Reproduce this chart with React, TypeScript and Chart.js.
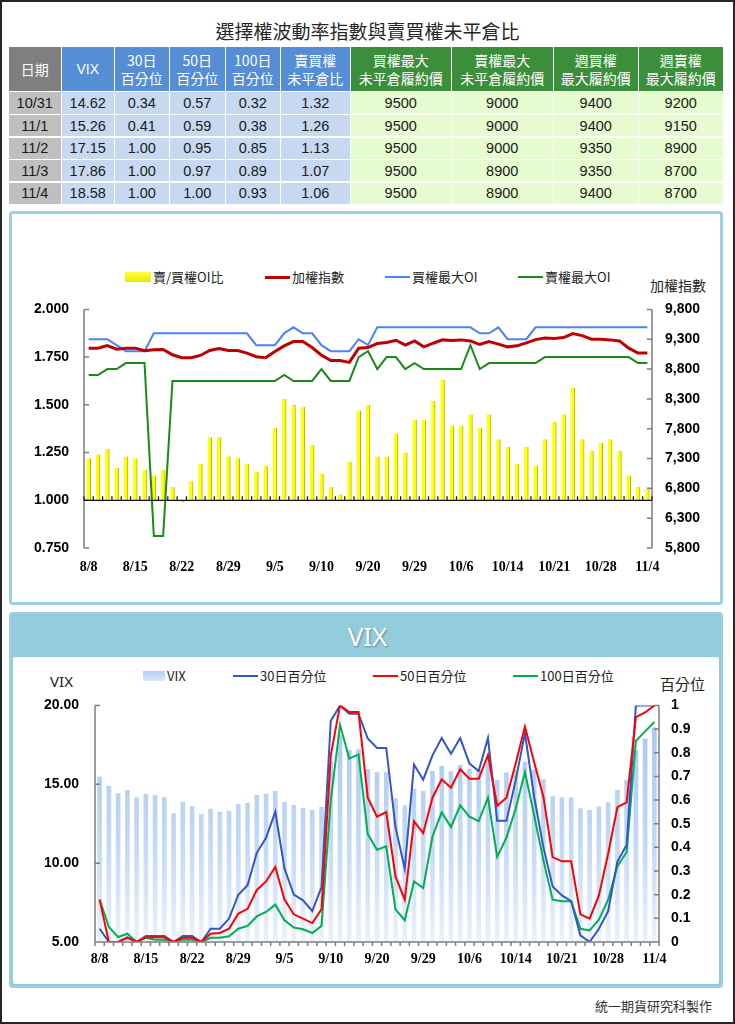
import React, { useEffect, useRef } from "react";
import { Chart, registerables } from "chart.js";

Chart.register(...registerables);

// ---------------- data ----------------
const DATES = ["8/8","8/9","8/10","8/11","8/12","8/15","8/16","8/17","8/18","8/19","8/22","8/23","8/24","8/25","8/26","8/29","8/30","8/31","9/1","9/2","9/5","9/6","9/7","9/8","9/9","9/10","9/12","9/13","9/14","9/19","9/20","9/21","9/22","9/23","9/26","9/29","9/30","10/3","10/4","10/5","10/6","10/7","10/11","10/12","10/13","10/14","10/17","10/18","10/19","10/20","10/21","10/24","10/25","10/26","10/27","10/28","10/31","11/1","11/2","11/3","11/4"];
const X_LABEL_STEP = 5;

// chart 1
const OI_RATIO = [1.22,1.24,1.27,1.17,1.23,1.22,1.16,1.13,1.16,1.07,0.99,1.10,1.19,1.33,1.33,1.23,1.22,1.19,1.15,1.18,1.38,1.53,1.50,1.49,1.29,1.14,1.07,1.03,1.20,1.47,1.50,1.23,1.23,1.35,1.25,1.42,1.42,1.52,1.63,1.39,1.39,1.45,1.38,1.45,1.32,1.28,1.19,1.28,1.18,1.32,1.41,1.45,1.59,1.32,1.26,1.30,1.32,1.26,1.13,1.07,1.06];
const TAIEX = [9150,9150,9194,9133,9150,9150,9106,9122,9128,9039,8989,8989,9028,9111,9144,9111,9111,9067,9006,8989,9094,9189,9261,9261,9161,9033,8944,8944,8911,9150,9161,9228,9244,9283,9200,9272,9172,9233,9289,9278,9289,9272,9211,9261,9217,9172,9189,9239,9294,9322,9311,9328,9394,9361,9300,9300,9289,9272,9150,9067,9067];
const CALL_MAX_OI = [9300,9300,9300,9200,9100,9100,9100,9400,9400,9400,9400,9400,9400,9400,9400,9400,9400,9400,9200,9200,9200,9400,9500,9400,9400,9200,9100,9100,9100,9300,9200,9500,9500,9500,9500,9500,9500,9500,9500,9500,9500,9500,9400,9400,9500,9300,9300,9300,9500,9500,9500,9500,9500,9500,9500,9500,9500,9500,9500,9500,9500];
const PUT_MAX_OI = [8700,8700,8800,8800,8900,8900,8900,6000,6000,8600,8600,8600,8600,8600,8600,8600,8600,8600,8600,8600,8600,8700,8600,8600,8600,8800,8600,8600,8600,9000,9100,8800,9000,9000,8800,8900,8800,8800,8800,8800,8800,9200,8800,8900,8900,8900,8900,8900,8900,9000,9000,9000,9000,9000,9000,9000,9000,9000,9000,8900,8900];
const Y1_LEFT = { min: 0.75, max: 2.0, step: 0.25 };
const Y1_RIGHT = { min: 5800, max: 9800, step: 500 };

// chart 2
const VIX = [15.45,14.87,14.41,14.62,14.14,14.37,14.30,14.16,13.14,13.86,13.59,13.08,13.42,13.23,13.31,13.73,13.80,14.30,14.37,14.56,13.86,13.67,13.48,13.35,13.54,16.40,18.10,17.15,17.19,15.95,15.74,15.78,14.09,13.63,14.70,14.56,15.82,16.14,15.80,16.20,15.95,15.89,16.30,15.25,15.72,15.90,16.41,15.90,15.30,14.24,14.14,14.14,13.46,13.35,13.57,13.84,14.62,15.26,17.15,17.86,18.58];
const PCT30 = [0.056,0,0,0.02,0,0.025,0.025,0.025,0,0.025,0.025,0,0.056,0.056,0.099,0.2,0.24,0.377,0.44,0.55,0.31,0.2,0.176,0.131,0.232,0.934,1,0.965,0.965,0.86,0.82,0.82,0.486,0.31,0.75,0.686,0.789,0.862,0.796,0.862,0.754,0.723,0.862,0.512,0.512,0.683,0.883,0.613,0.40,0.235,0.197,0.173,0.028,0,0.056,0.13,0.34,0.41,1,1,1];
const PCT50 = [0.179,0,0,0.018,0,0.02,0.02,0.02,0,0.018,0.018,0,0.035,0.038,0.056,0.12,0.14,0.22,0.256,0.317,0.179,0.117,0.099,0.08,0.138,0.789,1,0.972,0.972,0.61,0.53,0.549,0.277,0.179,0.51,0.46,0.61,0.687,0.652,0.73,0.69,0.69,0.79,0.576,0.61,0.754,0.911,0.76,0.613,0.359,0.341,0.341,0.117,0.099,0.197,0.373,0.57,0.59,0.95,0.97,1.0];
const PCT100 = [0.179,0.063,0.021,0.035,0,0.018,0.01,0.01,0,0.01,0.01,0,0.018,0.018,0.024,0.056,0.068,0.108,0.127,0.158,0.092,0.061,0.054,0.038,0.068,0.599,0.918,0.775,0.793,0.456,0.39,0.404,0.138,0.092,0.256,0.228,0.446,0.548,0.486,0.577,0.53,0.511,0.61,0.36,0.441,0.563,0.718,0.535,0.345,0.179,0.172,0.172,0.056,0.049,0.094,0.179,0.32,0.38,0.85,0.89,0.93];
const Y2_LEFT = { min: 5, max: 20, step: 5 };
const Y2_RIGHT = { min: 0, max: 1, step: 0.1 };

// table
const TABLE_HEADERS = [["日期"],["VIX"],["30日","百分位"],["50日","百分位"],["100日","百分位"],["賣買權","未平倉比"],["買權最大","未平倉履約價"],["賣權最大","未平倉履約價"],["週買權","最大履約價"],["週賣權","最大履約價"]];
const TABLE_DATES = ["10/31","11/1","11/2","11/3","11/4"];
const TABLE_VIX = ["14.62","15.26","17.15","17.86","18.58"];
const TABLE_P30 = ["0.34","0.41","1.00","1.00","1.00"];
const TABLE_P50 = ["0.57","0.59","0.95","0.97","1.00"];
const TABLE_P100 = ["0.32","0.38","0.85","0.89","0.93"];
const TABLE_RATIO = ["1.32","1.26","1.13","1.07","1.06"];
const TABLE_CALL = ["9500","9500","9500","9500","9500"];
const TABLE_PUT = ["9000","9000","9000","8900","8900"];
const TABLE_WCALL = ["9400","9400","9350","9350","9400"];
const TABLE_WPUT = ["9200","9150","8900","8700","8700"];

// ---------------- styles ----------------
const CJK = "'Noto Sans CJK TC', 'Noto Sans', sans-serif";
const NUM = "'Liberation Sans', Arial, sans-serif";
const SERIF = "'Liberation Serif', 'Times New Roman', serif";

const COL_X = [9, 62, 115, 170, 226, 281, 351, 452, 554, 639, 724];
const ROW_Y = [47, 92, 115, 137.5, 160, 182.5, 205];
const HEAD_BG = ["#7f7f7f", "#558ed5", "#558ed5", "#558ed5", "#558ed5", "#558ed5", "#3b8f3b", "#3b8f3b", "#3b8f3b", "#3b8f3b"];
const BODY_BG = ["#bfbfbf", "#c6d9f1", "#c6d9f1", "#c6d9f1", "#c6d9f1", "#c6d9f1", "#e6fbcf", "#e6fbcf", "#e6fbcf", "#e6fbcf"];

const tickLabel = (i: number) => (i % X_LABEL_STEP === 0 ? DATES[i] : "");

function categoryBounds(xs: any) {
  const w = xs.getPixelForValue(1) - xs.getPixelForValue(0);
  const x0 = xs.getPixelForValue(0) - w / 2;
  return { w, x0 };
}

const decor1 = {
  id: "decor1",
  afterDraw(chart: any) {
    const { ctx, chartArea: a, scales } = chart;
    const xs = scales.x, yl = scales.y, yr = scales.y1;
    ctx.save();
    ctx.strokeStyle = "#7f7f7f";
    ctx.lineWidth = 1.5;
    ctx.beginPath();
    ctx.moveTo(a.left, a.top); ctx.lineTo(a.left, a.bottom);
    yl.ticks.forEach((t: any) => { const p = yl.getPixelForValue(t.value); ctx.moveTo(a.left, p); ctx.lineTo(a.left + 5, p); });
    ctx.moveTo(a.right, a.top); ctx.lineTo(a.right, a.bottom);
    yr.ticks.forEach((t: any) => { const p = yr.getPixelForValue(t.value); ctx.moveTo(a.right, p); ctx.lineTo(a.right - 5, p); });
    ctx.stroke();
    const by = yl.getPixelForValue(1);
    const { w, x0 } = categoryBounds(xs);
    ctx.strokeStyle = "#111";
    ctx.lineWidth = 1.2;
    ctx.beginPath();
    ctx.moveTo(a.left, by); ctx.lineTo(a.right, by);
    for (let i = 0; i <= DATES.length; i++) { const px = x0 + i * w; ctx.moveTo(px, by); ctx.lineTo(px, by - 4); }
    ctx.stroke();
    ctx.restore();
  },
};

const decor2 = {
  id: "decor2",
  afterDraw(chart: any) {
    const { ctx, chartArea: a, scales } = chart;
    const xs = scales.x, yl = scales.y, yr = scales.y1;
    ctx.save();
    ctx.strokeStyle = "#7f7f7f";
    ctx.lineWidth = 1.5;
    ctx.beginPath();
    ctx.moveTo(a.left, a.top); ctx.lineTo(a.left, a.bottom);
    yl.ticks.forEach((t: any) => { const p = yl.getPixelForValue(t.value); ctx.moveTo(a.left, p); ctx.lineTo(a.left + 5, p); });
    ctx.moveTo(a.right, a.top); ctx.lineTo(a.right, a.bottom);
    yr.ticks.forEach((t: any) => { const p = yr.getPixelForValue(t.value); ctx.moveTo(a.right, p); ctx.lineTo(a.right - 5, p); });
    ctx.moveTo(a.left, a.bottom); ctx.lineTo(a.right, a.bottom);
    const { w, x0 } = categoryBounds(xs);
    for (let i = 0; i <= DATES.length; i++) { const px = x0 + i * w; ctx.moveTo(px, a.bottom); ctx.lineTo(px, a.bottom + 4); }
    ctx.stroke();
    ctx.restore();
  },
};

const tickFont = { family: NUM, weight: "bold" as const, size: 14 };
const xFont = { family: SERIF, weight: "bold" as const, size: 14 };

function ChartOne() {
  const ref = useRef<HTMLCanvasElement>(null);
  useEffect(() => {
    if (!ref.current) return;
    const chart = new Chart(ref.current, {
      type: "bar",
      data: {
        labels: DATES,
        datasets: [
          { type: "line", label: "加權指數", data: TAIEX, yAxisID: "y1", borderColor: "#c00000", borderWidth: 3, pointRadius: 0, tension: 0, order: 0 } as any,
          { type: "line", label: "買權最大OI", data: CALL_MAX_OI, yAxisID: "y1", borderColor: "#4d7fff", borderWidth: 2, pointRadius: 0, tension: 0, order: 1 } as any,
          { type: "line", label: "賣權最大OI", data: PUT_MAX_OI, yAxisID: "y1", borderColor: "#1a8a1a", borderWidth: 2, pointRadius: 0, tension: 0, order: 2 } as any,
          { type: "bar", label: "賣/買權OI比", data: OI_RATIO, yAxisID: "y", base: 1, backgroundColor: "#ffff00", borderColor: "#b5b500", borderWidth: { left: 0, right: 1, top: 0, bottom: 0 }, borderSkipped: false, barThickness: 4, order: 5 } as any,
        ],
      },
      options: {
        animation: false,
        responsive: false,
        maintainAspectRatio: false,
        layout: { padding: { top: 12, left: 0, right: 0, bottom: 0 } },
        plugins: { legend: { display: false }, tooltip: { enabled: false } },
        scales: {
          x: {
            type: "category", offset: true,
            grid: { display: false, drawTicks: false }, border: { display: false },
            ticks: { autoSkip: false, maxRotation: 0, minRotation: 0, padding: 11, color: "#000", font: xFont, callback: (_v: any, i: number) => tickLabel(i) },
            afterFit: (s: any) => { s.height = 38; },
          },
          y: {
            position: "left", min: Y1_LEFT.min, max: Y1_LEFT.max,
            grid: { display: false, drawTicks: false }, border: { display: false },
            ticks: { stepSize: Y1_LEFT.step, padding: 15, color: "#000", font: tickFont, callback: (v: any) => Number(v).toFixed(3) },
            afterFit: (s: any) => { s.width = 70; },
          },
          y1: {
            position: "right", min: Y1_RIGHT.min, max: Y1_RIGHT.max,
            grid: { display: false, drawTicks: false }, border: { display: false },
            ticks: { stepSize: Y1_RIGHT.step, padding: 13, color: "#000", font: tickFont, callback: (v: any) => Number(v).toLocaleString("en-US") },
            afterFit: (s: any) => { s.width = 67; },
          },
        },
      } as any,
      plugins: [decor1],
    });
    return () => chart.destroy();
  }, []);
  return <canvas ref={ref} width={705} height={300} style={{ position: "absolute", left: 14, top: 286, width: 705, height: 300 }} />;
}

function ChartTwo() {
  const ref = useRef<HTMLCanvasElement>(null);
  useEffect(() => {
    if (!ref.current) return;
    const chart = new Chart(ref.current, {
      type: "bar",
      data: {
        labels: DATES,
        datasets: [
          { type: "line", label: "50日百分位", data: PCT50, yAxisID: "y1", borderColor: "#ff0000", borderWidth: 2, pointRadius: 0, tension: 0, order: 0 } as any,
          { type: "line", label: "30日百分位", data: PCT30, yAxisID: "y1", borderColor: "#3355cc", borderWidth: 2, pointRadius: 0, tension: 0, order: 1 } as any,
          { type: "line", label: "100日百分位", data: PCT100, yAxisID: "y1", borderColor: "#00b050", borderWidth: 2, pointRadius: 0, tension: 0, order: 2 } as any,
          {
            type: "bar", label: "VIX", data: VIX, yAxisID: "y", barThickness: 4, order: 5,
            backgroundColor: (c: any) => {
              const a = c.chart.chartArea;
              if (!a) return "#c5daf5";
              const g = c.chart.ctx.createLinearGradient(0, a.top, 0, a.bottom);
              g.addColorStop(0, "#a6c6ef");
              g.addColorStop(0.6, "#c4daf5");
              g.addColorStop(1, "#eaf2fc");
              return g;
            },
          } as any,
        ],
      },
      options: {
        animation: false,
        responsive: false,
        maintainAspectRatio: false,
        layout: { padding: { top: 13, left: 0, right: 0, bottom: 0 } },
        plugins: { legend: { display: false }, tooltip: { enabled: false } },
        scales: {
          x: {
            type: "category", offset: true,
            grid: { display: false, drawTicks: false }, border: { display: false },
            ticks: { autoSkip: false, maxRotation: 0, minRotation: 0, padding: 9, color: "#000", font: xFont, callback: (_v: any, i: number) => tickLabel(i) },
            afterFit: (s: any) => { s.height = 35; },
          },
          y: {
            position: "left", min: Y2_LEFT.min, max: Y2_LEFT.max,
            grid: { display: false, drawTicks: false }, border: { display: false },
            ticks: { stepSize: Y2_LEFT.step, padding: 16, color: "#000", font: tickFont, callback: (v: any) => Number(v).toFixed(2) },
            afterFit: (s: any) => { s.width = 81; },
          },
          y1: {
            position: "right", min: Y2_RIGHT.min, max: Y2_RIGHT.max,
            grid: { display: false, drawTicks: false }, border: { display: false },
            ticks: { stepSize: Y2_RIGHT.step, padding: 12, color: "#000", font: tickFont, callback: (v: any) => String(Math.round(Number(v) * 10) / 10) },
            afterFit: (s: any) => { s.width = 60; },
          },
        },
      } as any,
      plugins: [decor2],
    });
    return () => chart.destroy();
  }, []);
  return <canvas ref={ref} width={705} height={296} style={{ position: "absolute", left: 14, top: 681, width: 705, height: 296 }} />;
}

function Txt(props: { x: number; y: number; size: number; children: any; color?: string; font?: string; align?: "left" | "right" | "center"; w?: number; style?: any }) {
  const { x, y, size, children, color = "#222", font = CJK, align = "left", w, style } = props;
  const h = Math.round(size * 1.4);
  const base: any = { position: "absolute", top: y - h / 2, fontSize: size, lineHeight: `${h}px`, height: h, whiteSpace: "nowrap", color, fontFamily: font };
  if (align === "left") base.left = x;
  else if (align === "right") { base.left = x - (w || 200); base.width = w || 200; base.textAlign = "right"; }
  else { base.left = x - (w || 200) / 2; base.width = w || 200; base.textAlign = "center"; }
  return <div style={{ ...base, ...style }}>{children}</div>;
}

function LegendItem(props: { x: number; y: number; kind: "box" | "line"; color: string; thick?: number; label: string; boxBg?: string; textX: number }) {
  const { x, y, kind, color, thick = 2, label, boxBg, textX } = props;
  return (
    <>
      {kind === "box" ? (
        <div style={{ position: "absolute", left: x, top: y - 5, width: textX - x - 2, height: 10, background: boxBg || color }} />
      ) : (
        <div style={{ position: "absolute", left: x, top: y - thick / 2, width: textX - x - 2, height: thick, background: color }} />
      )}
      <Txt x={textX} y={y} size={13}>{label}</Txt>
    </>
  );
}

function DataTable() {
  const cols = [TABLE_DATES, TABLE_VIX, TABLE_P30, TABLE_P50, TABLE_P100, TABLE_RATIO, TABLE_CALL, TABLE_PUT, TABLE_WCALL, TABLE_WPUT];
  const cells: any[] = [];
  TABLE_HEADERS.forEach((lines, c) => {
    const left = COL_X[c], width = COL_X[c + 1] - COL_X[c] - 1.5;
    const top = ROW_Y[0], height = ROW_Y[1] - ROW_Y[0] - 1.5;
    cells.push(
      <div key={`h${c}`} style={{ position: "absolute", left, top, width, height, background: HEAD_BG[c], color: "#fff", fontSize: 14, lineHeight: "18px", fontFamily: c === 1 ? NUM : CJK, display: "flex", flexDirection: "column", alignItems: "center", justifyContent: "center", textAlign: "center" }}>
        {lines.map((l, k) => <div key={k}>{l}</div>)}
      </div>
    );
  });
  for (let r = 0; r < TABLE_DATES.length; r++) {
    cols.forEach((col, c) => {
      const left = COL_X[c], width = COL_X[c + 1] - COL_X[c] - 1.5;
      const top = ROW_Y[r + 1], height = ROW_Y[r + 2] - ROW_Y[r + 1] - 1.5;
      cells.push(
        <div key={`c${r}_${c}`} style={{ position: "absolute", left, top, width, height, background: BODY_BG[c], color: "#1a1a1a", fontSize: 14.5, fontFamily: NUM, display: "flex", alignItems: "center", justifyContent: "center" }}>
          {col[r]}
        </div>
      );
    });
  }
  return <>{cells}</>;
}

export default function App() {
  return (
    <div style={{ position: "relative", width: 735, height: 1024, background: "#fff", overflow: "hidden", fontFamily: CJK }}>
      <style>{"body{margin:0;background:#fff}"}</style>
      <Txt x={367.5} y={30} size={19} align="center" w={500} color="#262626">選擇權波動率指數與賣買權未平倉比</Txt>
      <DataTable />

      {/* panel 1 */}
      <div style={{ position: "absolute", left: 9, top: 211, width: 714, height: 394, boxSizing: "border-box", border: "3px solid #9ccfdf", borderRadius: 4, background: "#fff" }} />
      <LegendItem x={125} y={277} kind="box" color="#ffff00" boxBg="linear-gradient(#ffff40,#e8e800)" label="賣/買權OI比" textX={153} />
      <LegendItem x={265} y={277} kind="line" color="#c00000" thick={3} label="加權指數" textX={292} />
      <LegendItem x={385} y={277} kind="line" color="#4d7fff" label="買權最大OI" textX={412} />
      <LegendItem x={518} y={277} kind="line" color="#1a8a1a" label="賣權最大OI" textX={545} />
      <Txt x={650} y={285} size={14}>加權指數</Txt>
      <ChartOne />

      {/* panel 2 */}
      <div style={{ position: "absolute", left: 9, top: 612, width: 714, height: 376, boxSizing: "border-box", border: "2px solid #9ccfdf", borderRadius: 4, background: "#93cddd" }}>
        <div style={{ position: "absolute", left: 2, right: 2, top: 43, bottom: 2, background: "#fff", borderRadius: 2 }} />
      </div>
      <Txt x={367.5} y={636} size={26} align="center" w={200} color="#fff" font="'Noto Sans', sans-serif" style={{ textShadow: "1px 1px 2px rgba(0,0,0,0.35)" }}>VIX</Txt>
      <LegendItem x={143} y={676} kind="box" color="#c5daf5" boxBg="linear-gradient(#b3cff2,#dce9fa)" label="VIX" textX={167} />
      <LegendItem x={233} y={676} kind="line" color="#3355cc" label="30日百分位" textX={260} />
      <LegendItem x={373} y={676} kind="line" color="#ff0000" label="50日百分位" textX={400} />
      <LegendItem x={513} y={676} kind="line" color="#00b050" label="100日百分位" textX={540} />
      <Txt x={61.5} y={681} size={15} align="center" w={60} font="'Noto Sans', sans-serif">VIX</Txt>
      <Txt x={660} y={683} size={15}>百分位</Txt>
      <ChartTwo />

      <Txt x={712} y={1006} size={13} align="right" w={200} color="#333">統一期貨研究科製作</Txt>
      <div style={{ position: "absolute", left: 0, top: 0, width: 735, height: 1024, boxSizing: "border-box", border: "2px solid #262626", pointerEvents: "none" }} />
    </div>
  );
}
